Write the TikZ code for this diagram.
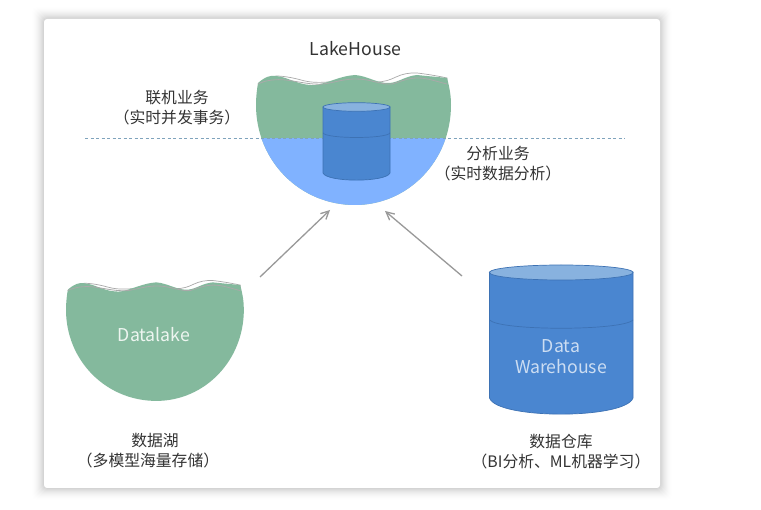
\documentclass[tikz,border=0pt]{standalone}
\usepackage{fontspec}
\setmainfont{Noto Sans CJK SC}
\usetikzlibrary{arrows.meta}
\definecolor{lakegreen}{HTML}{84B99D}
\definecolor{lakeblue}{HTML}{80B2FF}
\definecolor{drumblue}{HTML}{4A86D0}
\definecolor{drumtop}{HTML}{88B2DF}
\definecolor{drumedge}{HTML}{3D72B4}
\definecolor{waveline}{HTML}{A9A9A9}
\definecolor{inktext}{HTML}{333333}
\definecolor{dashline}{HTML}{7FA3BC}
\tikzset{
  x=1pt,y=-1pt,
  label text/.style={font=\fontsize{15.8}{18}\selectfont,text=inktext,inner sep=0pt,anchor=center},
  on colour/.style={font=\fontsize{17.7}{20}\selectfont,inner sep=0pt,anchor=center},
  flow/.style={draw=black!40,line width=1.3pt,-{Straight Barb[length=8pt,width=8pt,line width=1.3pt]}},
  drum side/.style={fill=drumblue,draw=drumedge,line width=.7pt},
  drum lid/.style={fill=drumtop,draw=drumedge,line width=.7pt},
  back wave/.style={fill=white,draw=waveline,line width=.7pt},
  inner wave/.style={draw=waveline,line width=.8pt},
}
% Bowl outline with a wavy surface, in local coordinates
\newcommand{\bowlpath}{%
  (2,4) .. controls (9,-2) and (14,-4) .. (20,-3)
  .. controls (33,-2) and (42,7) .. (60,6)
  .. controls (72,4) and (84,-3) .. (99,-4)
  .. controls (112,-3) and (122,5) .. (134,4)
  .. controls (143,3) and (150,-3) .. (161,-4)
  .. controls (170,-3) and (182,-2) .. (191,-1)
  .. controls (194,10) and (195,18) .. (195,26)
  .. controls (195,82) and (152,126) .. (99,126)
  .. controls (44,126) and (0,82) .. (0,26)
  .. controls (0,18) and (1,10) .. (2,4) -- cycle}
% The second water surface, showing only over the troughs
\newcommand{\backwave}{%
  (20,-3) .. controls (28,-3) and (38,-1) .. (45,1)
  .. controls (52,3) and (60,4) .. (72,3)
  -- (120,3)
  .. controls (128,3) and (134,1) .. (140,-2)
  .. controls (146,-5) and (154,-6.5) .. (161,-6)
  .. controls (170,-5) and (182,-3) .. (191,-1)
  -- (191,10) -- (20,10) -- cycle}
\newcommand{\innerwave}{%
  (2,5) .. controls (10,1) and (20,0) .. (30,1)
  .. controls (45,3) and (55,6) .. (68,5)
  .. controls (80,3) and (88,0) .. (100,0)
  .. controls (115,0) and (125,6) .. (136,5)
  .. controls (146,2) and (152,-1) .. (162,-1)
  .. controls (172,-1) and (182,3) .. (191,5)}
\begin{document}
\begin{tikzpicture}
\useasboundingbox (0,0) rectangle (761,510);
\fill[white] (0,0) rectangle (761,510);

% Card with its soft shadow, denser toward the card edge
\foreach \g in {12,11,...,1}{
  \pgfmathsetmacro{\shade}{.0022*(13-\g)}
  \fill[black,opacity=\shade,rounded corners=5pt]
    (44-\g,19-\g) rectangle (660+\g,488+\g);
}
\fill[white,rounded corners=3pt] (44,19) rectangle (660,488);

% Upper lake, green above the dashed line and blue below it
\begin{scope}[shift={(256,79)}]
  \draw[back wave] \backwave;
  \fill[lakegreen] \bowlpath;
  \begin{scope}
    \clip (-5,59.3) rectangle (205,135);
    \fill[lakeblue] \bowlpath;
  \end{scope}
  \draw[inner wave] \innerwave;
\end{scope}
\draw[draw=dashline,line width=.8pt,dash pattern=on 3pt off 2.5pt] (85,138.3) -- (625,138.3);

% Small drum in the upper lake
\draw[drum side] (323,107) -- (323,173) .. controls (327,182.5) and (386,182.5) .. (390,173) -- (390,107) -- cycle;
\draw[drumedge,line width=.7pt] (323,133) .. controls (327,139) and (386,139) .. (390,133);
\draw[drum lid] (356.5,107) ellipse [x radius=33.5,y radius=4.3];

% Lower-left lake
\begin{scope}[shift={(66,286)},xscale=.912,yscale=.912]
  \draw[back wave] \backwave;
  \fill[lakegreen] \bowlpath;
  \draw[inner wave] \innerwave;
\end{scope}

% Large drum on the right
\draw[drum side] (489.5,272) -- (489.5,398) .. controls (497,419.5) and (625,419.5) .. (633,398) -- (633,272) -- cycle;
\draw[drumedge,line width=.7pt] (489.5,320) .. controls (500,331) and (622,331) .. (633,320);
\draw[drum lid] (561.2,272.5) ellipse [x radius=71.8,y radius=7.5];

% Flows into the lakehouse
\coordinate (lakeFrom) at (260,277);
\coordinate (lakeTo) at (330,210);
\coordinate (whFrom) at (462,276);
\coordinate (whTo) at (385,211);
\draw[flow] (lakeFrom) -- (lakeTo);
\draw[flow] (whFrom) -- (whTo);

% Labels
\node[on colour,text=inktext] (title) at (355.5,49) {LakeHouse};
\node[label text] (oltp) at (177,98) {联机业务};
\node[label text] (oltpsub) at (177,117) {（实时并发事务）};
\node[label text] (olap) at (498,154) {分析业务};
\node[label text] (olapsub) at (498,173) {（实时数据分析）};
\node[on colour,text=white!85!lakegreen] (lakename) at (154,335) {Datalake};
\node[on colour,text=white!72!drumblue] (whname1) at (561,346) {Data};
\node[on colour,text=white!72!drumblue] (whname2) at (561,367) {Warehouse};
\node[label text] (lakecn) at (155,441) {数据湖};
\node[label text] (lakesub) at (148,460) {（多模型海量存储）};
\node[label text] (whcn) at (561,442) {数据仓库};
\node[label text] (whsub) at (561,461) {（BI分析、ML机器学习）};
\end{tikzpicture}
\end{document}
